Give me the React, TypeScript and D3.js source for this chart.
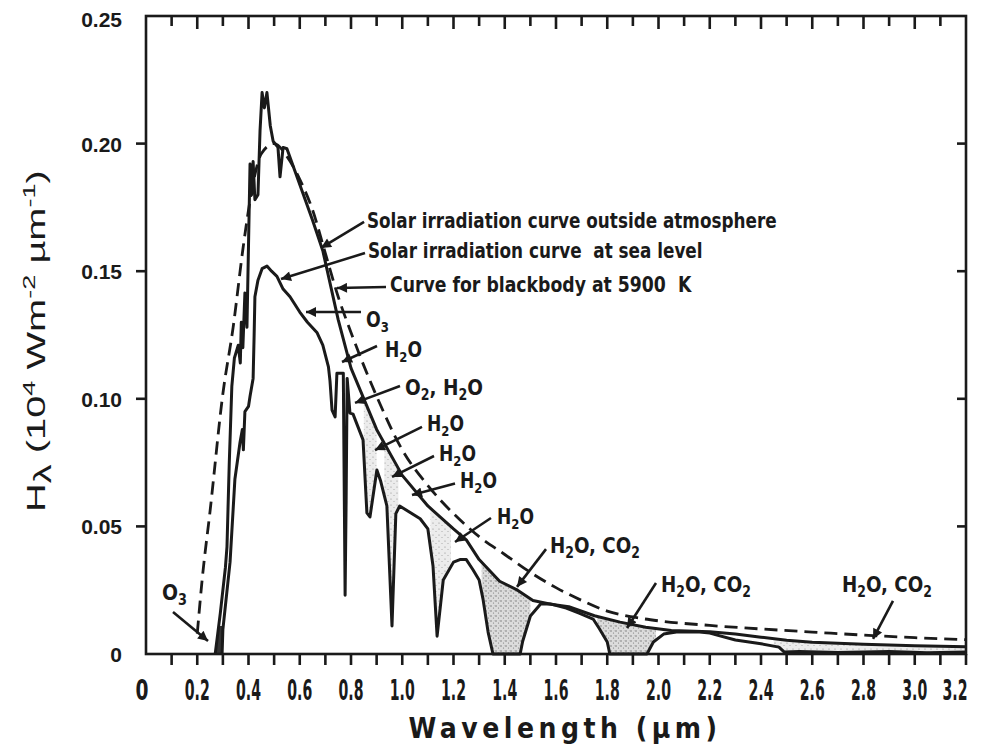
import React, { useLayoutEffect, useRef, useState } from "react";
import * as d3 from "d3";

const W = 981;
const H = 751;

// ---------- data ----------
const xMinorTicks = [0.1,0.2,0.3,0.4,0.5,0.6,0.7,0.8,0.9,1.0,1.1,1.2,1.3,1.4,1.5,1.6,1.7,1.8,1.9,2.0,2.1,2.2,2.3,2.4,2.5,2.6,2.7,2.8,2.9,3.0,3.1,3.2];
const xLabelValues = [0,0.2,0.4,0.6,0.8,1.0,1.2,1.4,1.6,1.8,2.0,2.2,2.4,2.6,2.8,3.0,3.2];
const xLabels = ["0","0.2","0.4","0.6","0.8","1.0","1.2","1.4","1.6","1.8","2.0","2.2","2.4","2.6","2.8","3.0","3.2"];
const yTickValues = [0,0.05,0.1,0.15,0.2,0.25];
const yTickLabels = ["0","0.05","0.10","0.15","0.20","0.25"];

// blackbody 5900 K (dashed)
const blackbody: [number, number][] = [
  [0.2,0.008],[0.22,0.03],[0.25,0.056],[0.3,0.102],[0.34,0.128],[0.38,0.16],[0.41,0.18],
  [0.45,0.196],[0.5,0.2],[0.55,0.195],[0.6,0.186],[0.65,0.174],[0.7,0.157],[0.75,0.14],
  [0.8,0.126],[0.85,0.113],[0.9,0.101],[1.0,0.08],[1.1,0.066],[1.2,0.055],[1.3,0.046],
  [1.4,0.039],[1.5,0.032],[1.6,0.026],[1.7,0.021],[1.8,0.0168],[1.9,0.0145],[2.0,0.013],
  [2.2,0.0112],[2.4,0.0098],[2.6,0.0086],[2.8,0.0074],[3.0,0.0064],[3.2,0.0056]
];

// solar irradiation outside atmosphere
const outside: [number, number][] = [
  [0.27,0.0],[0.28,0.008],[0.29,0.016],[0.3,0.025],[0.31,0.034],[0.316,0.042],[0.325,0.075],
  [0.335,0.105],[0.345,0.116],[0.36,0.121],[0.368,0.114],[0.372,0.13],[0.378,0.12],[0.386,0.1415],
  [0.394,0.128],[0.4,0.16],[0.406,0.192],[0.412,0.18],[0.418,0.193],[0.425,0.178],[0.437,0.18],
  [0.445,0.205],[0.453,0.22],[0.462,0.214],[0.472,0.22],[0.485,0.207],[0.496,0.201],[0.515,0.1985],
  [0.523,0.187],[0.535,0.1985],[0.55,0.198],[0.6,0.184],[0.65,0.17],[0.69,0.158],[0.75,0.131],
  [0.8,0.112],[0.9,0.088],[1.0,0.07],[1.1,0.058],[1.2,0.049],[1.25,0.0447],[1.3,0.037],
  [1.38,0.0285],[1.45,0.025],[1.51,0.021],[1.58,0.0195],[1.65,0.0185],[1.75,0.015],[1.85,0.0125],
  [1.95,0.0105],[2.05,0.0092],[2.2,0.0087],[2.3,0.0078],[2.4,0.0066],[2.5,0.0054],[2.6,0.0046],
  [2.8,0.0038],[3.0,0.0032],[3.2,0.0028]
];

// solar irradiation at sea level
const seaLevel: [number, number][] = [
  [0.297,0.0],[0.3,0.0096],[0.328,0.036],[0.347,0.0686],[0.367,0.083],[0.376,0.088],[0.38,0.08],
  [0.386,0.095],[0.4,0.097],[0.406,0.101],[0.418,0.108],[0.422,0.125],[0.425,0.14],[0.437,0.1465],
  [0.453,0.151],[0.472,0.152],[0.49,0.15],[0.511,0.148],[0.535,0.143],[0.562,0.14],[0.6,0.134],
  [0.63,0.13],[0.667,0.126],[0.69,0.121],[0.712,0.1125],[0.718,0.107],[0.726,0.0956],[0.738,0.0929],
  [0.745,0.11],[0.77,0.11],[0.774,0.06],[0.777,0.023],[0.781,0.06],[0.785,0.108],[0.796,0.0944],
  [0.808,0.094],[0.847,0.0839],[0.862,0.0553],[0.874,0.0537],[0.901,0.0721],[0.915,0.068],
  [0.94,0.058],[0.96,0.011],[0.975,0.055],[0.99,0.058],[1.07,0.053],[1.1,0.049],[1.12,0.0345],
  [1.136,0.007],[1.16,0.029],[1.2,0.036],[1.225,0.037],[1.25,0.037],[1.276,0.033],[1.3,0.029],
  [1.315,0.0216],[1.335,0.0086],[1.354,0.0],[1.46,0.0],[1.47,0.005],[1.5,0.0149],[1.54,0.0196],
  [1.58,0.0196],[1.64,0.018],[1.69,0.016],[1.745,0.0137],[1.77,0.0098],[1.8,0.0047],[1.81,0.0],
  [1.955,0.0],[1.98,0.0047],[2.02,0.0078],[2.07,0.0086],[2.16,0.0086],[2.2,0.0082],[2.3,0.0055],
  [2.4,0.004],[2.47,0.0027],[2.49,0.0008],[2.55,0.001],[2.7,0.0006],[2.9,0.001],[3.05,0.0005],[3.2,0.0008]
];

// absorption bands shaded between the two solar curves
const lightBands: [number, number][] = [[0.85,0.9],[0.93,0.985],[1.11,1.19],[2.45,3.2]];
const denseBands: [number, number][] = [[1.31,1.5],[1.76,1.99]];
const ozoneBand: [number, number] = [0.26,0.305];

type Seg = { t: string; k?: "sub" | "sup" };
type Ann = { segs: Seg[]; tx: number; ty: number; len: number; from: [number, number]; to: [number, number] };

const H2O: Seg[] = [{ t: "H" }, { t: "2", k: "sub" }, { t: "O" }];
const H2OCO2: Seg[] = [{ t: "H" }, { t: "2", k: "sub" }, { t: "O, CO" }, { t: "2", k: "sub" }];

const annotations: Ann[] = [
  { segs: [{ t: "Solar irradiation curve outside atmosphere" }], tx: 0.862, ty: 0.1669, len: 410, from: [0.851, 0.1693], to: [0.683, 0.1591] },
  { segs: [{ t: "Solar irradiation curve  at sea level" }], tx: 0.866, ty: 0.1552, len: 335, from: [0.8546, 0.1571], to: [0.5268, 0.1469] },
  { segs: [{ t: "Curve for blackbody at 5900  K" }], tx: 0.9522, ty: 0.1418, len: 302, from: [0.9366, 0.1438], to: [0.7454, 0.1434] },
  { segs: [{ t: "O" }, { t: "3", k: "sub" }], tx: 0.8585, ty: 0.1281, len: 23, from: [0.839, 0.134], to: [0.6244, 0.134] },
  { segs: H2O, tx: 0.9327, ty: 0.1164, len: 37, from: [0.9015, 0.1207], to: [0.7649, 0.1144] },
  { segs: [{ t: "O" }, { t: "2", k: "sub" }, { t: ", H" }, { t: "2", k: "sub" }, { t: "O" }], tx: 1.0107, ty: 0.1015, len: 78, from: [0.9912, 0.105], to: [0.8156, 0.0984] },
  { segs: H2O, tx: 1.0966, ty: 0.0874, len: 37, from: [1.0771, 0.089], to: [0.8937, 0.0799] },
  { segs: H2O, tx: 1.1434, ty: 0.0756, len: 37, from: [1.1239, 0.0776], to: [0.96, 0.0694] },
  { segs: H2O, tx: 1.2254, ty: 0.0652, len: 37, from: [1.2059, 0.0668], to: [1.038, 0.0623] },
  { segs: H2O, tx: 1.3698, ty: 0.0509, len: 37, from: [1.3463, 0.0533], to: [1.2059, 0.0439] },
  { segs: H2OCO2, tx: 1.5766, ty: 0.0396, len: 90, from: [1.561, 0.0411], to: [1.4478, 0.0263] },
  { segs: H2OCO2, tx: 2.0098, ty: 0.0243, len: 90, from: [1.9902, 0.0278], to: [1.8771, 0.0102] },
  { segs: H2OCO2, tx: 2.7161, ty: 0.0243, len: 90, from: [2.9151, 0.0208], to: [2.8371, 0.0059] },
  { segs: [{ t: "O" }, { t: "3", k: "sub" }], tx: 0.0624, ty: 0.0212, len: 25, from: [0.1054, 0.0165], to: [0.242, 0.0051] },
];

const yTitle: Seg[] = [
  { t: "H" }, { t: "λ", k: "sub" }, { t: " (10" }, { t: "4", k: "sup" }, { t: " Wm" }, { t: "-2", k: "sup" },
  { t: " µm" }, { t: "-1", k: "sup" }, { t: ")" },
];

// ---------- layout ----------
const X0 = 146, X1 = 966, Y0 = 654, Y1 = 16;
const NARROW = "'Liberation Sans Narrow','Arial Narrow','DejaVu Sans Condensed',sans-serif";
const SANS = "'Liberation Sans',Arial,Helvetica,sans-serif";
const INK = "#1a1a1a";

const x = d3.scaleLinear().domain([0, 3.2]).range([X0, X1]);
const y = d3.scaleLinear().domain([0, 0.25]).range([Y0, Y1]);

function interp(data: [number, number][], l: number): number {
  const i = d3.bisector((d: [number, number]) => d[0]).right(data, l);
  if (i <= 0) return data[0][1];
  if (i >= data.length) return data[data.length - 1][1];
  const a = data[i - 1], b = data[i];
  const t = (l - a[0]) / (b[0] - a[0]);
  return a[1] + t * (b[1] - a[1]);
}

function bandPath(a: number, b: number): string {
  const grid = new Set<number>([a, b]);
  seaLevel.forEach((d) => { if (d[0] > a && d[0] < b) grid.add(d[0]); });
  outside.forEach((d) => { if (d[0] > a && d[0] < b) grid.add(d[0]); });
  const pts = Array.from(grid).sort((p, q) => p - q);
  const area = d3.area<number>()
    .x((l) => x(l))
    .y0((l) => y(interp(seaLevel, l)))
    .y1((l) => y(Math.max(interp(outside, l), interp(seaLevel, l))));
  return area(pts) || "";
}

function Rich({ segs, size }: { segs: Seg[]; size: number }) {
  let cur = 0;
  return (
    <>
      {segs.map((s, i) => {
        const target = s.k === "sub" ? size * 0.24 : s.k === "sup" ? -size * 0.42 : 0;
        const dy = target - cur;
        cur = target;
        const fs = s.k === "sub" && s.t === "λ" ? size * 0.95 : s.k ? size * 0.68 : size;
        return (
          <tspan key={i} dy={dy} fontSize={fs}>{s.t}</tspan>
        );
      })}
    </>
  );
}

// text squeezed horizontally to a target width (mimics a condensed face)
function FitText(props: {
  x: number; y: number; width: number; rotate?: number; anchor?: string;
  family: string; size: number; weight?: string; children: React.ReactNode; spacing?: number;
}) {
  const ref = useRef<SVGTextElement>(null);
  const [s, setS] = useState(1);
  useLayoutEffect(() => {
    if (ref.current) {
      const w = ref.current.getBBox().width;
      if (w > 0) setS(props.width / w);
    }
  }, [props.width]);
  const tr = `translate(${props.x},${props.y})${props.rotate ? ` rotate(${props.rotate})` : ""} scale(${s},1)`;
  return (
    <text ref={ref} transform={tr} textAnchor={props.anchor || "start"} fontFamily={props.family}
      fontSize={props.size} fontWeight={props.weight || "normal"} fill={INK} style={{ whiteSpace: "pre" }}
      letterSpacing={props.spacing || 0}>
      {props.children}
    </text>
  );
}

export default function App() {
  const lineLin = d3.line<[number, number]>().x((d) => x(d[0])).y((d) => y(d[1]));
  const lineSmooth = d3.line<[number, number]>().x((d) => x(d[0])).y((d) => y(d[1])).curve(d3.curveMonotoneX);

  return (
    <svg width={W} height={H} style={{ display: "block", position: "absolute", left: 0, top: 0, background: "#fff" }}>
      <defs>
        <pattern id="stipLight" width="6" height="6" patternUnits="userSpaceOnUse">
          <rect width="6" height="6" fill="#ececec" />
          <circle cx="1" cy="1" r="0.6" fill="#888" />
          <circle cx="4" cy="3.5" r="0.5" fill="#999" />
        </pattern>
        <pattern id="stipDense" width="5" height="5" patternUnits="userSpaceOnUse">
          <rect width="5" height="5" fill="#dcdcdc" />
          <circle cx="1" cy="1" r="0.7" fill="#666" />
          <circle cx="3.5" cy="3" r="0.6" fill="#777" />
          <circle cx="4.2" cy="0.8" r="0.4" fill="#888" />
        </pattern>
        <clipPath id="ozClip">
          <rect x={X0} y={y(0.011)} width={200} height={Y0 - y(0.011)} />
        </clipPath>
        <marker id="ah" viewBox="0 0 10 10" refX="10" refY="5" markerWidth="15" markerHeight="10"
          markerUnits="userSpaceOnUse" orient="auto">
          <path d="M0,0 L10,5 L0,10 z" fill={INK} />
        </marker>
      </defs>

      {/* shaded absorption bands */}
      {lightBands.map((b, i) => (
        <path key={"lb" + i} d={bandPath(b[0], b[1])} fill="url(#stipLight)" />
      ))}
      {denseBands.map((b, i) => (
        <path key={"db" + i} d={bandPath(b[0], b[1])} fill="url(#stipDense)" />
      ))}
      <path d={bandPath(ozoneBand[0], ozoneBand[1])} fill="#333" clipPath="url(#ozClip)" />

      {/* curves */}
      <path d={lineSmooth(blackbody) || ""} fill="none" stroke={INK} strokeWidth={2.8} strokeDasharray="13 7" />
      <path d={lineLin(outside) || ""} fill="none" stroke={INK} strokeWidth={3} strokeLinejoin="round" />
      <path d={lineLin(seaLevel) || ""} fill="none" stroke={INK} strokeWidth={3} strokeLinejoin="round" />

      {/* frame */}
      <rect x={X0} y={Y1} width={X1 - X0} height={Y0 - Y1} fill="none" stroke={INK} strokeWidth={2.6} />

      {/* top ticks (inside) */}
      {xMinorTicks.filter((v) => v < 3.15).map((v, i) => {
        const major = Math.abs(Math.round(v * 10) % 2) === 0;
        return <line key={"tt" + i} x1={x(v)} x2={x(v)} y1={Y1} y2={Y1 + (major ? 13 : 10)} stroke={INK} strokeWidth={2.6} />;
      })}
      {/* bottom ticks (outside) */}
      {xMinorTicks.map((v, i) => (
        <line key={"bt" + i} x1={x(v)} x2={x(v)} y1={Y0} y2={Y0 + 11} stroke={INK} strokeWidth={2.6} />
      ))}
      {/* left ticks (outside) and right ticks (inside) */}
      {yTickValues.filter((v) => v > 0 && v < 0.25).map((v, i) => (
        <g key={"yt" + i}>
          <line x1={X0 - 10} x2={X0} y1={y(v)} y2={y(v)} stroke={INK} strokeWidth={2.6} />
          <line x1={X1 - 9} x2={X1} y1={y(v)} y2={y(v)} stroke={INK} strokeWidth={2.6} />
        </g>
      ))}

      {/* x tick labels */}
      {xLabelValues.map((v, i) => (
        <FitText key={"xl" + i} x={x(v) + (v === 0 ? -4 : v === 3.2 ? -11 : 0)} y={Y0 + 46} anchor="middle"
          family={NARROW} weight="bold" size={29} width={xLabels[i].length === 1 ? 13 : 25}>
          {xLabels[i]}
        </FitText>
      ))}
      {/* y tick labels */}
      {yTickValues.map((v, i) => (
        <text key={"yl" + i} x={122} y={y(v) + (v === 0.25 ? 11 : 8)} textAnchor="end"
          fontFamily={SANS} fontWeight="bold" fontSize={21} fill={INK}>{yTickLabels[i]}</text>
      ))}

      {/* axis titles */}
      <text x={565} y={738} textAnchor="middle" fontFamily={NARROW} fontWeight="bold" fontSize={28}
        letterSpacing={4.5} fill={INK}>Wavelength (µm)</text>
      <FitText x={45} y={512} rotate={-90} family={SANS} size={25} width={342}>
        <Rich segs={yTitle} size={25} />
      </FitText>

      {/* annotations */}
      {annotations.map((a, i) => (
        <g key={"an" + i}>
          <line x1={x(a.from[0])} y1={y(a.from[1])} x2={x(a.to[0])} y2={y(a.to[1])}
            stroke={INK} strokeWidth={2.6} markerEnd="url(#ah)" />
          <FitText x={x(a.tx)} y={y(a.ty)} family={NARROW} weight="bold" size={22} width={a.len}>
            <Rich segs={a.segs} size={22} />
          </FitText>
        </g>
      ))}
    </svg>
  );
}
